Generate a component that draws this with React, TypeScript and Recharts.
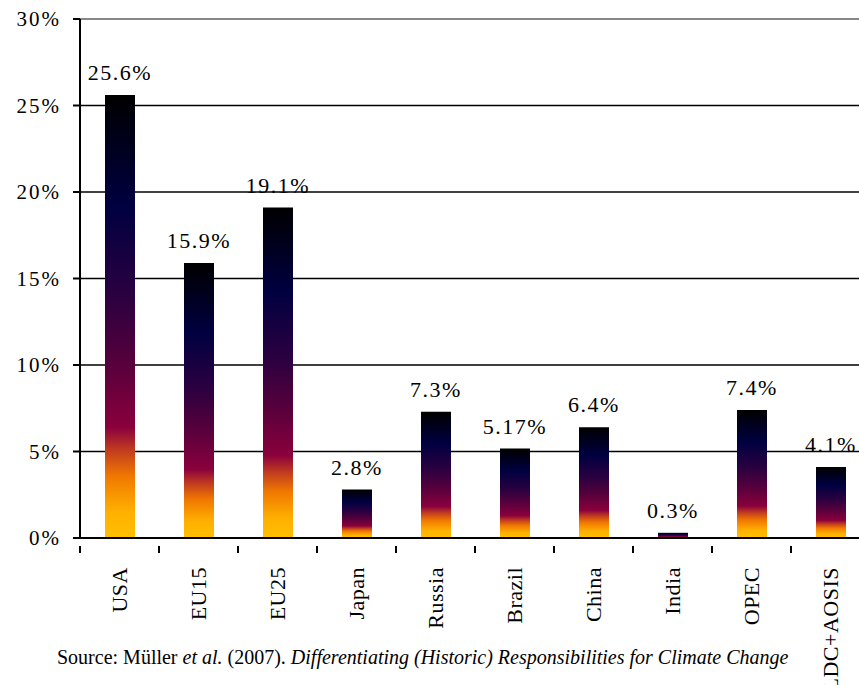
import { Bar, BarChart, CartesianGrid, LabelList, ReferenceLine, XAxis, YAxis } from "recharts";

// share of historic responsibility, per region
const regions = ["USA", "EU15", "EU25", "Japan", "Russia", "Brazil", "China", "India", "OPEC", "LDC+AOSIS"];
const shares = [25.6, 15.9, 19.1, 2.8, 7.3, 5.17, 6.4, 0.3, 7.4, 4.1];
const yTicks = [0, 5, 10, 15, 20, 25, 30];

const data = regions.map((name, i) => ({ name, share: shares[i] }));

const FONT = "Liberation Serif, Times New Roman, Times, serif";
const CHART_W = 870;
const CHART_H = 685;
const PLOT_LEFT = 80;
const BAND = (CHART_W - PLOT_LEFT) / regions.length;

function CategoryTick(props: any) {
  const { x, y, payload, index } = props;
  return (
    <g transform={`translate(${x},${y})`}>
      <line x1={-BAND / 2} y1={0} x2={-BAND / 2} y2={7} stroke="#000" strokeWidth={2} />
      {index === regions.length - 1 && (
        <line x1={BAND / 2} y1={0} x2={BAND / 2} y2={7} stroke="#000" strokeWidth={2} />
      )}
      <text
        transform="rotate(-90)"
        x={-21}
        y={0}
        dy="0.35em"
        textAnchor="end"
        fontFamily={FONT}
        fontSize={22}
        letterSpacing={0.5}
        fill="#000"
      >
        {payload.value}
      </text>
    </g>
  );
}

export default function App() {
  return (
    <div
      style={{
        position: "absolute",
        left: 0,
        top: 0,
        width: 859,
        height: 685,
        overflow: "hidden",
        background: "#fff",
      }}
    >
      <BarChart width={CHART_W} height={CHART_H} data={data} margin={{ top: 19, right: 0, bottom: 0, left: 0 }}>
        <defs>
          <linearGradient id="barFill" x1="0" y1="1" x2="0" y2="0">
            <stop offset="0" stopColor="#FFC000" />
            <stop offset="0.06" stopColor="#FFB000" />
            <stop offset="0.14" stopColor="#F07800" />
            <stop offset="0.2" stopColor="#C03A20" />
            <stop offset="0.25" stopColor="#8A003C" />
            <stop offset="0.4" stopColor="#55003C" />
            <stop offset="0.55" stopColor="#2A0040" />
            <stop offset="0.75" stopColor="#000040" />
            <stop offset="0.88" stopColor="#000020" />
            <stop offset="1" stopColor="#000000" />
          </linearGradient>
        </defs>
        <CartesianGrid vertical={false} stroke="#000" strokeWidth={1.5} />
        <ReferenceLine y={30} stroke="#888" strokeWidth={2} />
        <XAxis
          dataKey="name"
          interval={0}
          height={147}
          axisLine={{ stroke: "#000", strokeWidth: 2 }}
          tickLine={false}
          tick={<CategoryTick />}
        />
        <YAxis
          width={PLOT_LEFT}
          domain={[0, 30]}
          ticks={yTicks}
          tickFormatter={(v: number) => `${v}%`}
          axisLine={{ stroke: "#000", strokeWidth: 2 }}
          tickLine={{ stroke: "#000", strokeWidth: 2 }}
          tickSize={7}
          tickMargin={12}
          tick={{ fill: "#000", fontFamily: FONT, fontSize: 21, letterSpacing: 2 }}
        />
        <Bar dataKey="share" fill="url(#barFill)" barSize={30} isAnimationActive={false}>
          <LabelList
            dataKey="share"
            position="top"
            offset={15}
            formatter={(v: any) => `${v}%`}
            style={{ fill: "#000", fontFamily: FONT, fontSize: 22, letterSpacing: 1.5 }}
          />
        </Bar>
      </BarChart>
      <div
        style={{
          position: "absolute",
          left: 57,
          top: 646,
          fontFamily: FONT,
          fontSize: 20,
          color: "#000",
          whiteSpace: "nowrap",
        }}
      >
        Source: Müller <i>et al.</i> (2007). <i>Differentiating (Historic) Responsibilities for Climate Change</i>
      </div>
    </div>
  );
}
